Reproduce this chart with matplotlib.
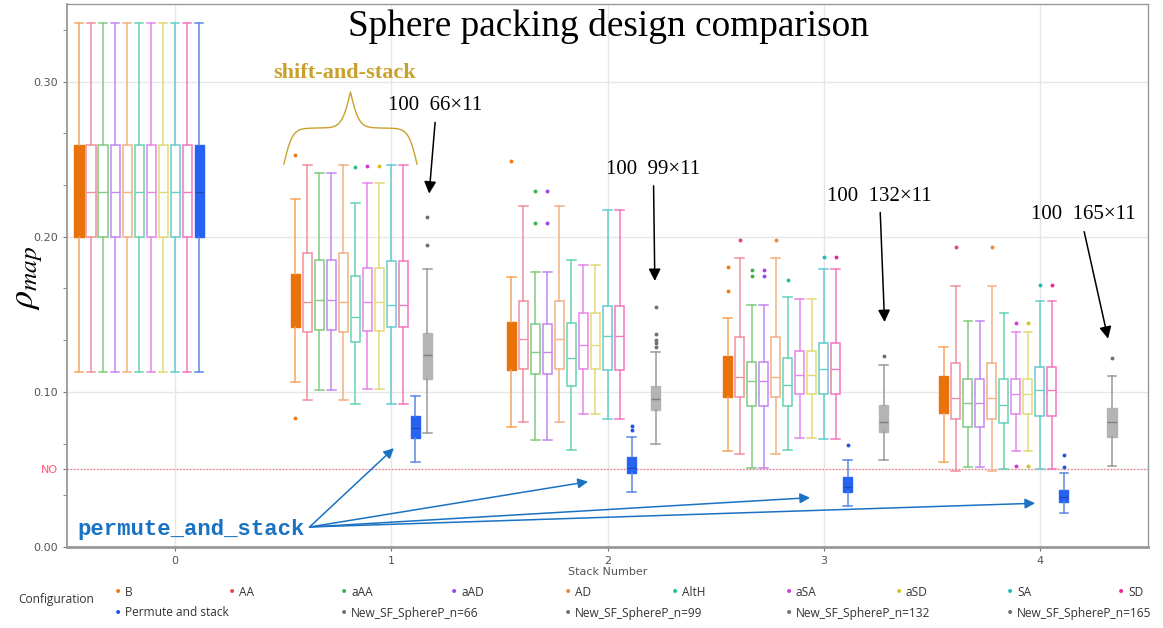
import numpy as np
import matplotlib
matplotlib.use('Agg')
import matplotlib.pyplot as plt

plt.rcParams['mathtext.fontset'] = 'stix'

# --- data: (whislo, q1, median, q3, whishi) per stack 0..4
stacks = [0, 1, 2, 3, 4]
labels = ['B', 'AA', 'aAA', 'aAD', 'AD', 'AltH', 'aSA', 'aSD', 'SA', 'SD',
          'Permute and stack', 'New_SF_SphereP_n=66', 'New_SF_SphereP_n=99',
          'New_SF_SphereP_n=132', 'New_SF_SphereP_n=165']

stack0 = (0.113, 0.200, 0.229, 0.259, 0.338)

B_box = [stack0, (0.1065, 0.1417, 0.160, 0.176, 0.2245), (0.0776, 0.114, 0.128, 0.1452, 0.1738),
         (0.0621, 0.097, 0.110, 0.1234, 0.1473), (0.0548, 0.0862, 0.098, 0.1103, 0.1288)]
B_out = [[], [0.2529, 0.0834], [0.249], [0.1806, 0.1647], []]

AA_box = [stack0, (0.095, 0.1389, 0.1579, 0.1892, 0.2462), (0.0806, 0.1148, 0.134, 0.1587, 0.2198),
          (0.0602, 0.097, 0.1097, 0.1351, 0.1862), (0.0488, 0.0826, 0.0959, 0.1183, 0.1684)]
AA_out = [[], [], [], [0.1978], [0.1931]]

aAA_box = [stack0, (0.1015, 0.140, 0.1594, 0.185, 0.2411), (0.069, 0.1112, 0.1256, 0.1437, 0.1772),
           (0.0508, 0.0912, 0.1069, 0.1191, 0.1563), (0.0514, 0.0776, 0.0929, 0.1082, 0.1456)]
aAA_out = [[], [], [0.2293, 0.2086], [0.1783, 0.175], []]

aAD_box = [stack0, (0.1015, 0.140, 0.1594, 0.185, 0.2411), (0.069, 0.1112, 0.1256, 0.1437, 0.1772),
           (0.0508, 0.0912, 0.1069, 0.1191, 0.1563), (0.0514, 0.0776, 0.0929, 0.1082, 0.1456)]
aAD_out = [[], [], [0.2293, 0.2086], [0.1783, 0.175], []]

AD_box = [stack0, (0.095, 0.1389, 0.1579, 0.1892, 0.2462), (0.0806, 0.1148, 0.134, 0.1587, 0.2198),
          (0.0602, 0.097, 0.1097, 0.1351, 0.1862), (0.0488, 0.0826, 0.0959, 0.1183, 0.1684)]
AD_out = [[], [], [], [0.1978], [0.1931]]

AltH_box = [stack0, (0.092, 0.1323, 0.148, 0.1744, 0.2217), (0.0626, 0.1035, 0.1219, 0.1443, 0.1852),
            (0.0626, 0.0912, 0.1047, 0.1217, 0.1613), (0.0505, 0.0798, 0.0914, 0.1082, 0.1508)]
AltH_out = [[], [0.2447], [], [0.1718], []]

aSA_box = [stack0, (0.1019, 0.1394, 0.1579, 0.1796, 0.2346), (0.0858, 0.1148, 0.1305, 0.151, 0.1817),
           (0.0701, 0.0985, 0.1108, 0.1262, 0.1598), (0.0617, 0.0858, 0.0985, 0.1082, 0.1387)]
aSA_out = [[], [0.2453], [], [], [0.1443, 0.0525]]

aSD_box = [stack0, (0.1019, 0.1394, 0.1579, 0.1796, 0.2346), (0.0858, 0.1148, 0.1305, 0.151, 0.1817),
           (0.0701, 0.0985, 0.1108, 0.1262, 0.1598), (0.0617, 0.0858, 0.0985, 0.1082, 0.1387)]
aSD_out = [[], [0.2453], [], [], [0.1443, 0.0525]]

SA_box = [stack0, (0.092, 0.1415, 0.1559, 0.1841, 0.2462), (0.0826, 0.1142, 0.1357, 0.1555, 0.2174),
          (0.0697, 0.0985, 0.1146, 0.1312, 0.1791), (0.0505, 0.0843, 0.1013, 0.1161, 0.1583)]
SA_out = [[], [], [], [0.1869], [0.1686]]

SD_box = [stack0, (0.092, 0.1415, 0.1559, 0.1841, 0.2462), (0.0826, 0.1142, 0.1357, 0.1555, 0.2174),
          (0.0697, 0.0985, 0.1146, 0.1312, 0.1791), (0.0505, 0.0843, 0.1013, 0.1161, 0.1583)]
SD_out = [[], [], [], [0.1869], [0.1686]]

perm_box = [stack0, (0.055, 0.0705, 0.077, 0.0847, 0.0976), (0.0357, 0.0475, 0.0508, 0.0583, 0.0708),
            (0.0265, 0.0357, 0.0389, 0.0454, 0.0561), (0.0219, 0.0292, 0.0325, 0.0366, 0.048)]
perm_out = [[], [], [0.0783, 0.0755], [0.0658], [0.0592, 0.0514]]

n66_box = [None, (0.0733, 0.1084, 0.1237, 0.1378, 0.1794), None, None, None]
n66_out = [[], [0.2129, 0.1948], [], [], []]
n99_box = [None, None, (0.0665, 0.088, 0.0955, 0.1035, 0.1256), None, None]
n99_out = [[], [], [0.155, 0.1374, 0.1335, 0.1314, 0.1292], [], []]
n132_box = [None, None, None, (0.0561, 0.074, 0.0806, 0.0916, 0.117), None]
n132_out = [[], [], [], [0.1234], []]
n165_box = [None, None, None, None, (0.0525, 0.071, 0.0805, 0.0899, 0.1099)]
n165_out = [[], [], [], [], [0.1219]]

boxes = [B_box, AA_box, aAA_box, aAD_box, AD_box, AltH_box, aSA_box, aSD_box, SA_box, SD_box,
         perm_box, n66_box, n99_box, n132_box, n165_box]
fliers = [B_out, AA_out, aAA_out, aAD_out, AD_out, AltH_out, aSA_out, aSD_out, SA_out, SD_out,
          perm_out, n66_out, n99_out, n132_out, n165_out]

dot_colors = ['#ee7a14', '#e2475f', '#3cb44b', '#a044ee', '#e8883a', '#22c08e', '#d23ad8',
              '#d2c420', '#1fb9bb', '#e8289a', '#1f55e0', '#707070', '#707070', '#707070', '#707070']
line_colors = ['#f5a55c', '#f0909c', '#80cc80', '#c488f2', '#f0b284', '#66d2b4', '#e486ea',
               '#e2da76', '#66cccc', '#f276be', '#5a88e4', '#9a9a9a', '#9a9a9a', '#9a9a9a', '#9a9a9a']
fill_colors = ['#e8730a', None, None, None, None, None, None, None, None, None,
               '#2563f0', '#b4b4b4', '#b4b4b4', '#b4b4b4', '#b4b4b4']

fig = plt.figure(figsize=(11.63, 6.28), dpi=100)
ax = fig.add_axes([67 / 1163, 1 - 547 / 628, (1148 - 67) / 1163, (547 - 4) / 628])

slot_w = 12 / 216
for k in range(len(boxes)):
    stats, pos = [], []
    for s, v in enumerate(boxes[k]):
        if v is None:
            continue
        lo, q1, med, q3, hi = v
        stats.append(dict(whislo=lo, q1=q1, med=med, q3=q3, whishi=hi, fliers=fliers[k][s]))
        pos.append(stacks[s] + (k - 8) * slot_w)
    fc = fill_colors[k]
    if fc is None:
        bprops = dict(facecolor='white', edgecolor=line_colors[k], lw=1.1)
        mcol = line_colors[k]
    else:
        bprops = dict(facecolor=fc, edgecolor=fc, lw=1.0)
        mcol = '#1d4ab8' if k == 10 else ('#808080' if k > 10 else fc)
    ax.bxp(stats, positions=pos, widths=0.042, capwidths=0.04, patch_artist=True,
           manage_ticks=False, boxprops=bprops,
           whiskerprops=dict(color=line_colors[k], lw=1.1),
           capprops=dict(color=line_colors[k], lw=1.1),
           medianprops=dict(color=mcol, lw=1.0),
           flierprops=dict(marker='o', markersize=2.8, markerfacecolor=dot_colors[k],
                           markeredgecolor='none'))

ax.axhline(0.05, color='#ff6b7a', ls=':', lw=0.9, zorder=1)

ax.set_xlim(-0.5, 4.5)
ax.set_ylim(0, 0.35)
ax.set_xticks(stacks)
ax.set_xticklabels([str(s) for s in stacks])
ax.set_yticks([0.0, 0.05, 0.1, 0.2, 0.3])
ax.set_yticklabels(['0.00', 'NO', '0.10', '0.20', '0.30'])
ax.set_yticks([1 / 30, 2 / 30, 4 / 30, 5 / 30, 7 / 30, 8 / 30, 10 / 30], minor=True)
ax.tick_params(axis='both', labelsize=8, colors='#777777', labelcolor='#555555', length=3)
ax.tick_params(axis='y', which='minor', length=3, colors='#777777')
ax.get_yticklabels()[1].set_color('#ff5a6e')
ax.grid(True, which='major', color='#e6e6e6', lw=1)
ax.set_axisbelow(True)
for sp in ax.spines.values():
    sp.set_color('#999999')
    sp.set_linewidth(1)
ax.spines['bottom'].set_linewidth(2)
ax.spines['left'].set_linewidth(1.3)
ax.set_xlabel('Stack Number', fontsize=8, color='#555555', labelpad=1)

# title and y label
fig.text(608 / 1163, 1 - 27 / 628, 'Sphere packing design comparison', ha='center', va='center',
         family='Liberation Serif', fontsize=26.8)
fig.text(28 / 1163, 1 - 278 / 628, r'$\rho_{map}$', rotation=90, ha='center', va='center',
         fontsize=26)

# annotations
serif = 'Liberation Serif'
ann = [('100  66\u00d711', (1.202, 0.2847), (1.2037, 0.2755), (1.174, 0.226)),
       ('100  99\u00d711', (2.209, 0.2432), (2.213, 0.2346), (2.219, 0.1697)),
       ('100  132\u00d711', (3.258, 0.226), (3.261, 0.2174), (3.282, 0.1432)),
       ('100  165\u00d711', (4.200, 0.2142), (4.202, 0.205), (4.318, 0.1325))]
for txt, tp, a0, a1 in ann:
    ax.text(tp[0], tp[1], txt, ha='center', va='center', family=serif, fontsize=15)
    ax.annotate('', xy=a1, xytext=a0,
                arrowprops=dict(arrowstyle='-|>', color='black', lw=1.1, mutation_scale=18))

gold = '#c9a12a'
ax.text(0.784, 0.3056, 'shift-and-stack', ha='center', va='center', family=serif,
        fontweight='bold', fontsize=16, color=gold)
# curly brace
x0, x1, yb, h, beta = 0.503, 1.119, 0.2468, 0.0465, 50
xm = (x0 + x1) / 2
xs = np.linspace(x0, xm, 200)
yh = 1 / (1 + np.exp(-beta * (xs - x0))) + 1 / (1 + np.exp(-beta * (xs - xm)))
bx = np.concatenate([xs, 2 * xm - xs[::-1]])
by = np.concatenate([yh, yh[::-1]])
ax.plot(bx, yb + (by - 0.5) * h, color=gold, lw=1.0)

blue = '#1a72c2'
ax.text(-0.452, 0.0116, 'permute_and_stack', ha='left', va='center', family='Liberation Mono',
        fontweight='bold', fontsize=16, color=blue)
start = (0.622, 0.0129)
for tip in [(1.012, 0.0637), (1.910, 0.0421), (2.937, 0.0318), (3.978, 0.0282)]:
    ax.annotate('', xy=tip, xytext=start,
                arrowprops=dict(arrowstyle='-|>', color=blue, lw=1.1, mutation_scale=15,
                                shrinkA=0, shrinkB=0))

# legend laid out as in the reference
fig.text(18 / 1163, 1 - 600 / 628, 'Configuration', ha='left', va='center', fontsize=8.6,
         color='#333333', family='Open Sans')
cols = [118, 232, 344, 454, 568, 675, 789, 899, 1010, 1121]
rows = [(k, cols[k], 592) for k in range(10)] + \
       [(10 + j, cols[2 * j], 613) for j in range(5)]
for k, x, y in rows:
    fig.text(x / 1163, 1 - y / 628, '\u2022', ha='center', va='center', fontsize=10,
             color=dot_colors[k])
    fig.text((x + 7) / 1163, 1 - y / 628, labels[k], ha='left', va='center', fontsize=8.6,
             color='#333333', family='Open Sans')

fig.savefig('out.png', dpi=100)
